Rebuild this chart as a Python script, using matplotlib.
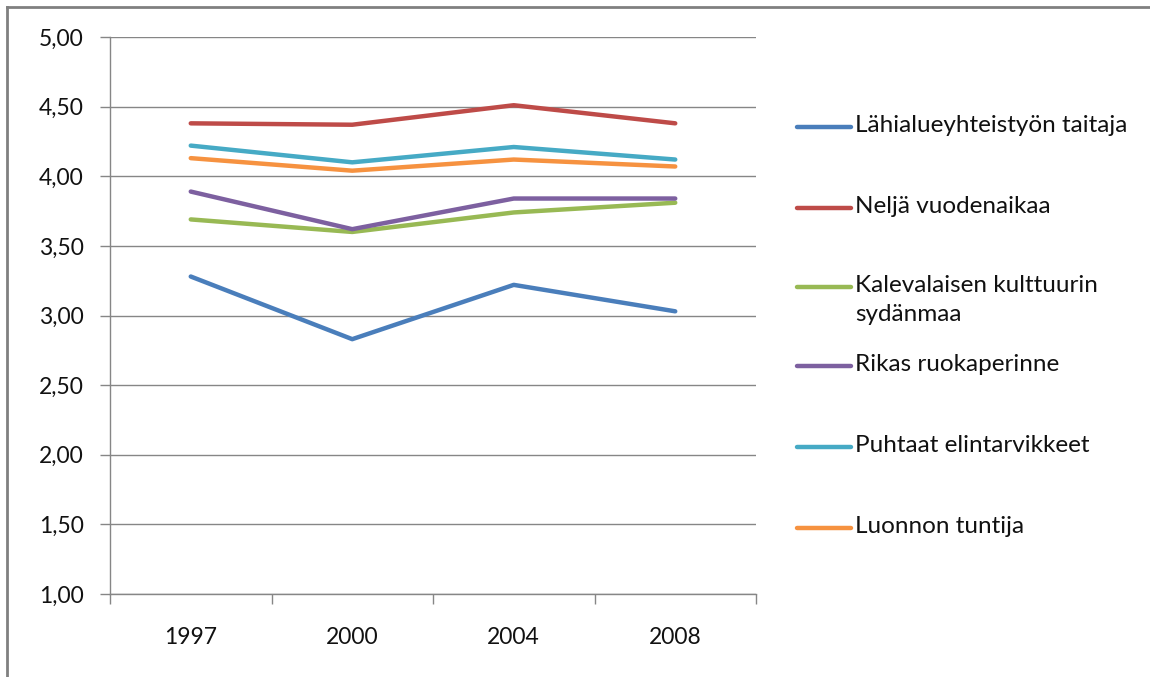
import matplotlib.pyplot as plt
from matplotlib.lines import Line2D

plt.rcParams['font.family'] = ['Lato', 'DejaVu Sans']

years = ['1997', '2000', '2004', '2008']
lahialue = [3.28, 2.83, 3.22, 3.03]
nelja = [4.38, 4.37, 4.51, 4.38]
kalevala = [3.69, 3.60, 3.74, 3.81]
rikas = [3.89, 3.62, 3.84, 3.84]
puhtaat = [4.22, 4.10, 4.21, 4.12]
luonnon = [4.13, 4.04, 4.12, 4.07]

labels = ['Lähialueyhteistyön taitaja', 'Neljä vuodenaikaa',
          'Kalevalaisen kulttuurin\nsydänmaa', 'Rikas ruokaperinne',
          'Puhtaat elintarvikkeet', 'Luonnon tuntija']
series = [lahialue, nelja, kalevala, rikas, puhtaat, luonnon]
colors = ['#4A7EBB', '#BE4B48', '#98B954', '#7D60A0', '#46AAC5', '#F69240']
yticks = [1.0, 1.5, 2.0, 2.5, 3.0, 3.5, 4.0, 4.5, 5.0]

fig = plt.figure(figsize=(11.5, 6.77), dpi=100)
ax = fig.add_axes([110/1150, 1-594/677, (756-110)/1150, (594-37)/677])

x = range(len(years))
for vals, c, lab in zip(series, colors, labels):
    ax.plot(x, vals, color=c, lw=3.2, solid_capstyle='round', solid_joinstyle='round', label=lab)

gc = '#868686'
ax.set_ylim(1, 5)
ax.set_xlim(-0.5, 3.5)
ax.set_yticks(yticks)
ax.set_yticklabels([('%.2f' % v).replace('.', ',') for v in yticks], fontsize=16.5, color='#111111')
ax.set_xticks(list(x))
ax.set_xticklabels(years, fontsize=16.5, color='#111111')
ax.set_xticks([-0.5, 0.5, 1.5, 2.5, 3.5], minor=True)
ax.tick_params(axis='x', which='major', length=0, pad=24)
ax.tick_params(axis='x', which='minor', length=7, color=gc, width=1)
ax.tick_params(axis='y', length=7, color=gc, width=1, pad=12)
ax.grid(axis='y', color=gc, lw=1)
ax.set_axisbelow(True)
for s in ['top', 'right']:
    ax.spines[s].set_visible(False)
for s in ['left', 'bottom']:
    ax.spines[s].set_color(gc)
    ax.spines[s].set_linewidth(1)

# legend drawn by hand so the handle lines up with the first text line
ys = [127, 208, 287, 366, 447, 528]
for yy, c, lab in zip(ys, colors, labels):
    fy = 1 - yy/677
    fig.add_artist(Line2D([797/1150, 851/1150], [fy, fy], color=c, lw=3.2,
                          solid_capstyle='round', transform=fig.transFigure))
    fig.text(855/1150, fy + 12/677, lab, fontsize=17.5, color='#111111',
             va='top', ha='left', linespacing=1.45)

# outer frame (left and top edges only)
fig.add_artist(Line2D([7/1150, 7/1150], [0, 1-7/677], color='#808080', lw=2, transform=fig.transFigure))
fig.add_artist(Line2D([7/1150, 1], [1-7/677, 1-7/677], color='#808080', lw=2, transform=fig.transFigure))

fig.savefig('out.png', dpi=100)
